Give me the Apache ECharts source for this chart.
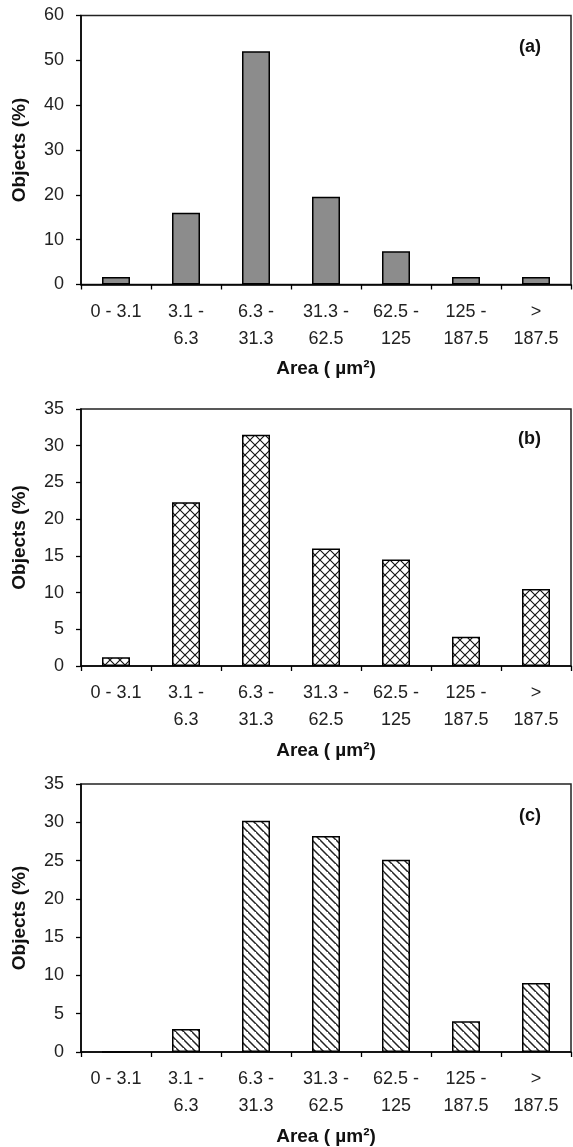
<!DOCTYPE html>
<html><head><meta charset="utf-8">
<script src="https://cdn.jsdelivr.net/npm/echarts@6/dist/echarts.min.js"></script>
<style>html,body{margin:0;padding:0;background:#fff}#c{width:573px;height:1147px}</style>
</head><body><div id="c"></div>
<script>
// ---- data ----
const categories = ['0 - 3.1', '3.1 -\n6.3', '6.3 -\n31.3', '31.3 -\n62.5', '62.5 -\n125', '125 -\n187.5', '>\n187.5'];
const valuesA = [1.7, 16, 52, 19.6, 7.4, 1.7, 1.7];
const valuesB = [1.2, 22.3, 31.5, 16, 14.5, 4, 10.5];
const valuesC = [0, 3, 30.2, 28.2, 25.1, 4, 9];
const panelLabels = ['(a)', '(b)', '(c)'];
const yMax = [60, 35, 35];
const yInterval = [10, 5, 5];
const xAxisName = 'Area ( µm²)';
const yAxisName = 'Objects (%)';

// ---- styles ----
const FONT = '"Liberation Sans", Arial, sans-serif';
const gridTops = [15.5, 409, 784];
const gridHeights = [269, 257, 268];
const labelTops = [33, 425, 802];

function crossHatch() {
  const s = 10, c = document.createElement('canvas');
  c.width = s; c.height = s;
  const g = c.getContext('2d');
  g.fillStyle = '#fff'; g.fillRect(0, 0, s, s);
  g.strokeStyle = '#111'; g.lineWidth = 1.1;
  g.beginPath();
  g.moveTo(-1, -1); g.lineTo(s + 1, s + 1);
  g.moveTo(s + 1, -1); g.lineTo(-1, s + 1);
  g.stroke();
  return c;
}
function diagHatch() {
  const s = 8, c = document.createElement('canvas');
  c.width = s; c.height = s;
  const g = c.getContext('2d');
  g.fillStyle = '#fff'; g.fillRect(0, 0, s, s);
  g.strokeStyle = '#222'; g.lineWidth = 1.5;
  g.beginPath();
  g.moveTo(-1, -1); g.lineTo(s + 1, s + 1);
  g.moveTo(-s - 1, -1); g.lineTo(1, s + 1);
  g.moveTo(s - 1, -s - 1); g.lineTo(2 * s + 1, s + 1);
  g.stroke();
  return c;
}

const fills = [
  '#8c8c8c',
  { image: crossHatch(), repeat: 'repeat' },
  { image: diagHatch(), repeat: 'repeat' }
];
const seriesData = [valuesA, valuesB, valuesC];

const chart = echarts.init(document.getElementById('c'), null, { renderer: 'canvas' });
const grid = [], xAxis = [], yAxis = [], series = [], title = [];
for (let i = 0; i < 3; i++) {
  grid.push({ left: 81, right: 2, top: gridTops[i], height: gridHeights[i], show: true, borderColor: '#222', borderWidth: 1.5, backgroundColor: 'transparent' });
  xAxis.push({
    type: 'category', gridIndex: i, data: categories,
    axisLine: { lineStyle: { color: '#000', width: 1.5 } },
    axisTick: { show: true, length: 5, lineStyle: { color: '#000', width: 1.3 } },
    axisLabel: { interval: 0, color: '#222', fontFamily: FONT, fontSize: 18, lineHeight: 27, margin: 14 },
    name: xAxisName, nameLocation: 'middle', nameGap: 75,
    nameTextStyle: { fontFamily: FONT, fontSize: 19, fontWeight: 'bold', color: '#111' }
  });
  yAxis.push({
    type: 'value', gridIndex: i, min: 0, max: yMax[i], interval: yInterval[i],
    axisLine: { show: true, lineStyle: { color: '#000', width: 1.5 } },
    axisTick: { show: true, length: 5, lineStyle: { color: '#000', width: 1.3 } },
    splitLine: { show: false },
    axisLabel: { color: '#222', fontFamily: FONT, fontSize: 18, margin: 17 },
    name: yAxisName, nameLocation: 'middle', nameGap: 52,
    nameTextStyle: { fontFamily: FONT, fontSize: 19, fontWeight: 'bold', color: '#111' }
  });
  series.push({
    type: 'bar', xAxisIndex: i, yAxisIndex: i, data: seriesData[i], barWidth: '40%',
    itemStyle: { color: fills[i], borderColor: '#000', borderWidth: 1.5 },
    silent: true
  });
  title.push({ text: panelLabels[i], right: 27, top: labelTops[i],
    textStyle: { fontFamily: FONT, fontSize: 18, fontWeight: 'bold', color: '#111' } });
}
chart.setOption({ animation: false, backgroundColor: '#fff', title, grid, xAxis, yAxis, series });
</script>
</body></html>
